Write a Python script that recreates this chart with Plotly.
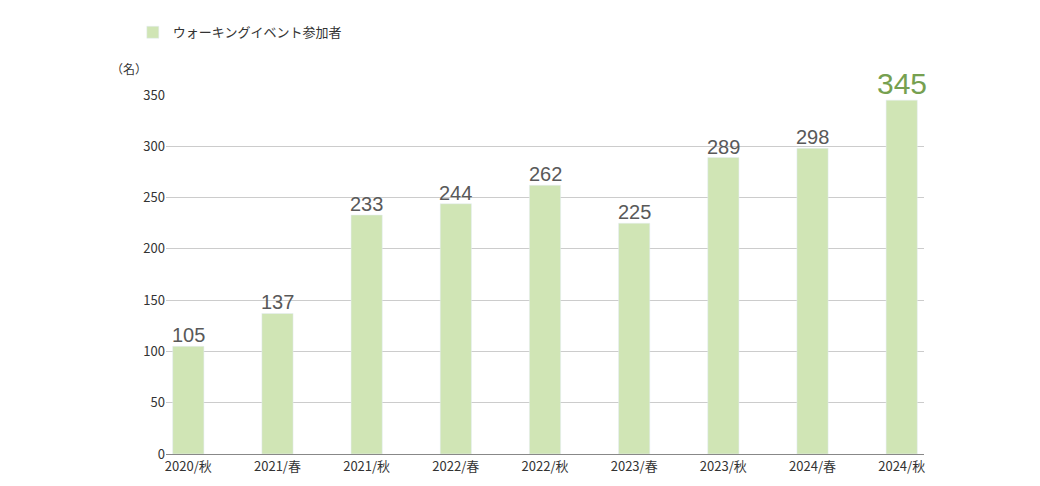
import plotly.graph_objects as go

categories = ["2020/秋", "2021/春", "2021/秋", "2022/春", "2022/秋",
              "2023/春", "2023/秋", "2024/春", "2024/秋"]
participants = [105, 137, 233, 244, 262, 225, 289, 298, 345]

fig = go.Figure()
fig.add_trace(go.Bar(
    x=categories,
    y=participants,
    name="ウォーキングイベント参加者",
    marker_color="#d0e5b5",
    hoverinfo="x+y",
))

# value labels above bars; the last one larger and green
annotations = []
for i, (cat, val) in enumerate(zip(categories, participants)):
    last = i == len(categories) - 1
    annotations.append(dict(
        x=cat, y=val, text=str(val), showarrow=False,
        xanchor="center", yanchor="bottom", yshift=-2,
        font=dict(family="Liberation Sans, Arial",
                  size=30 if last else 20,
                  color="#76a050" if last else "#595959"),
    ))
annotations.append(dict(text="（名）", x=118, y=60, xref="paper", yref="paper",
                        showarrow=False, font=dict(size=12)))
annotations[-1].update(xref="paper", yref="paper", x=-0.075, y=1.075,
                       xanchor="left", yanchor="middle")

fig.update_layout(
    width=1040,
    height=486,
    margin=dict(l=158, r=124, t=87, b=40, autoexpand=False),
    plot_bgcolor="white",
    paper_bgcolor="white",
    font=dict(family="Noto Sans CJK JP, sans-serif", color="#333333", size=13),
    bargap=0.65,
    showlegend=True,
    legend=dict(xref="container", yref="container", x=0.12, y=0.95,
                xanchor="left", yanchor="middle",
                orientation="h", font=dict(size=13)),
    xaxis=dict(range=[-0.25, 8.25], showline=True, linecolor="#888888",
               ticks="", tickfont=dict(size=13), automargin=False),
    yaxis=dict(range=[0, 350], dtick=50, gridcolor="#cccccc", zeroline=False,
               ticks="", tickfont=dict(size=13), automargin=False),
    annotations=annotations,
)

fig.write_html("out.html")
